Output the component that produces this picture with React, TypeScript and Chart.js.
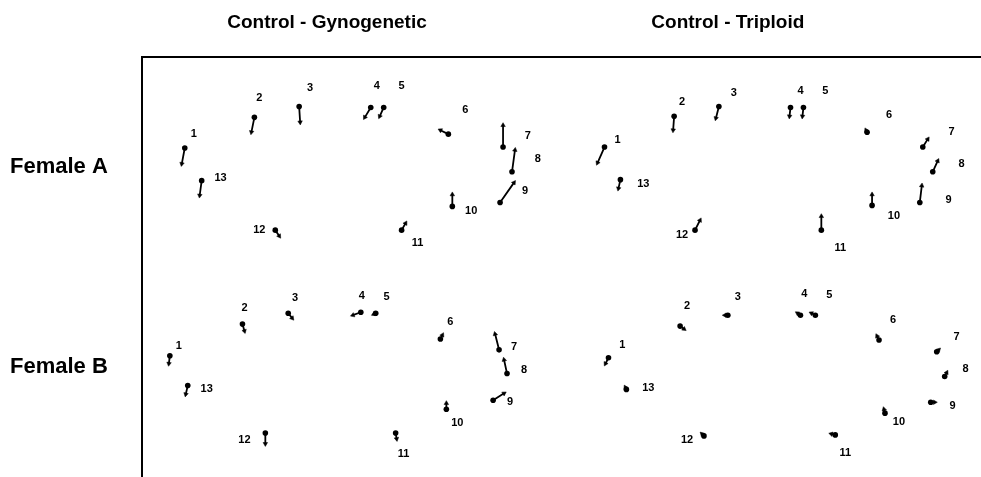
import React, { useEffect, useRef } from 'react';
import { Chart, registerables } from 'chart.js';

Chart.register(...registerables);

// ---------- data ----------
const landmarkLabels = ['1', '2', '3', '4', '5', '6', '7', '8', '9', '10', '11', '12', '13'];
const columnTitles = ['Control - Gynogenetic', 'Control - Triploid'];
const rowLabels = ['Female A', 'Female B'];

// Female A, Control - Gynogenetic (panel-local shape coordinates)
const femAGynStart: [number, number][] = [
  [43, 92], [113, 61], [158, 50], [230, 51], [243, 51], [308, 78], [363, 91],
  [372, 116], [360, 147], [312, 151], [261, 175], [134, 175], [60, 125],
];
const femAGynEnd: [number, number][] = [
  [40, 108], [110, 76], [159, 66], [224, 61], [239, 60], [300, 74], [363, 69],
  [375, 94], [374, 127], [312, 139], [265, 168], [138, 181], [58, 140],
];
const femAGynLabel: [number, number][] = [
  [52, 78], [118, 41], [169, 31], [236, 29], [261, 29], [325, 54], [388, 80],
  [398, 103], [385, 135], [331, 156], [277, 188], [118, 175], [79, 122],
];

// Female A, Control - Triploid
const femATriStart: [number, number][] = [
  [43, 91], [113, 60], [158, 50], [230, 51], [243, 51], [307, 76], [363, 91],
  [373, 116], [360, 147], [312, 150], [261, 175], [134, 175], [59, 124],
];
const femATriEnd: [number, number][] = [
  [36, 107], [112, 74], [155, 62], [229, 60], [242, 60], [306, 74], [368, 83],
  [378, 105], [362, 130], [312, 139], [261, 161], [139, 165], [57, 133],
];
const femATriLabel: [number, number][] = [
  [56, 84], [121, 45], [173, 36], [240, 34], [265, 34], [329, 59], [392, 76],
  [402, 108], [389, 145], [334, 161], [280, 193], [121, 180], [82, 128],
];

// Female B, Control - Gynogenetic
const femBGynStart: [number, number][] = [
  [28, 92], [101, 60], [147, 49], [220, 48], [235, 49], [300, 75], [359, 86],
  [367, 110], [353, 137], [306, 146], [255, 170], [124, 170], [46, 122],
];
const femBGynEnd: [number, number][] = [
  [27, 100], [103, 67], [151, 54], [212, 51], [233, 50], [302, 71], [355, 70],
  [364, 96], [364, 130], [306, 140], [256, 176], [124, 181], [44, 131],
];
const femBGynLabel: [number, number][] = [
  [37, 82], [103, 44], [154, 34], [221, 32], [246, 33], [310, 58], [374, 83],
  [384, 106], [370, 139], [317, 160], [263, 191], [103, 177], [65, 126],
];

// Female B, Control - Triploid
const femBTriStart: [number, number][] = [
  [47, 94], [119, 62], [167, 51], [240, 51], [255, 51], [319, 76], [377, 88],
  [385, 113], [371, 139], [325, 150], [275, 172], [143, 173], [65, 126],
];
const femBTriEnd: [number, number][] = [
  [44, 100], [123, 65], [164, 51], [237, 49], [251, 49], [317, 72], [379, 86],
  [387, 109], [375, 139], [324, 146], [271, 171], [141, 171], [64, 124],
];
const femBTriLabel: [number, number][] = [
  [61, 81], [126, 42], [177, 33], [244, 30], [269, 31], [333, 56], [397, 73],
  [406, 105], [393, 143], [339, 159], [285, 190], [126, 177], [87, 125],
];

const columnTitleX = [186, 589];
const rowLabelY = [111, 313];

const panels = [
  { col: 0, row: 0, start: femAGynStart, end: femAGynEnd, label: femAGynLabel },
  { col: 1, row: 0, start: femATriStart, end: femATriEnd, label: femATriLabel },
  { col: 0, row: 1, start: femBGynStart, end: femBGynEnd, label: femBGynLabel },
  { col: 1, row: 1, start: femBTriStart, end: femBTriEnd, label: femBTriLabel },
];
const COL_STEP = 422;
const ROW_STEP = 210;

const FONT = '"Liberation Sans", Arial, Helvetica, sans-serif';

export default function App() {
  const ref = useRef<HTMLCanvasElement | null>(null);

  useEffect(() => {
    if (!ref.current) return;
    const datasets: any[] = [];
    panels.forEach((p) => {
      const ox = p.col * COL_STEP;
      const oy = p.row * ROW_STEP;
      const segs: any[] = [];
      p.start.forEach((s, i) => {
        const e = p.end[i];
        segs.push({ x: s[0] + ox, y: s[1] + oy });
        segs.push({ x: e[0] + ox, y: e[1] + oy });
        segs.push({ x: NaN, y: NaN });
      });
      datasets.push({
        data: segs,
        showLine: true,
        spanGaps: false,
        borderColor: '#000',
        borderWidth: 1.8,
        pointRadius: 0,
        pointHoverRadius: 0,
      });
      datasets.push({
        data: p.start.map((s) => ({ x: s[0] + ox, y: s[1] + oy })),
        showLine: false,
        pointRadius: 2.8,
        pointBackgroundColor: '#000',
        pointBorderColor: '#000',
        pointBorderWidth: 0,
      });
      const starts = p.start.map((s) => ({ x: s[0] + ox, y: s[1] + oy }));
      datasets.push({
        data: p.end.map((e) => ({ x: e[0] + ox, y: e[1] + oy })),
        showLine: false,
        pointStyle: 'triangle',
        pointRadius: 2.6,
        pointBackgroundColor: '#000',
        pointBorderColor: '#000',
        pointBorderWidth: 0.5,
        pointRotation: (ctx: any) => {
          const chart = ctx.chart;
          const xs = chart.scales.x;
          const ys = chart.scales.y;
          const s = starts[ctx.dataIndex];
          const e = ctx.raw;
          if (!s || !e || !xs || !ys) return 0;
          const dx = xs.getPixelForValue(e.x) - xs.getPixelForValue(s.x);
          const dy = ys.getPixelForValue(e.y) - ys.getPixelForValue(s.y);
          return (Math.atan2(dx, -dy) * 180) / Math.PI;
        },
      });
    });

    const annotate = {
      id: 'annotate',
      afterDatasetsDraw(chart: any) {
        const c = chart.ctx;
        const xs = chart.scales.x;
        const ys = chart.scales.y;
        const area = chart.chartArea;
        c.save();
        // frame
        c.strokeStyle = '#000';
        c.lineWidth = 2;
        c.beginPath();
        c.moveTo(area.left, chart.height);
        c.lineTo(area.left, area.top);
        c.lineTo(chart.width, area.top);
        c.stroke();
        // landmark numbers
        c.fillStyle = '#000';
        c.font = 'bold 11px ' + FONT;
        c.textAlign = 'center';
        c.textBaseline = 'middle';
        panels.forEach((p) => {
          const ox = p.col * COL_STEP;
          const oy = p.row * ROW_STEP;
          p.label.forEach((l, i) => {
            c.fillText(landmarkLabels[i], xs.getPixelForValue(l[0] + ox), ys.getPixelForValue(l[1] + oy));
          });
        });
        // column titles
        c.font = 'bold 19px ' + FONT;
        columnTitles.forEach((t, i) => {
          c.fillText(t, xs.getPixelForValue(columnTitleX[i]), 23);
        });
        // row labels
        c.font = 'bold 22px ' + FONT;
        c.textAlign = 'left';
        rowLabels.forEach((t, i) => {
          c.fillText(t, 10, ys.getPixelForValue(rowLabelY[i]));
        });
        c.restore();
      },
    };

    const chart = new Chart(ref.current, {
      type: 'scatter',
      data: { datasets },
      options: {
        animation: false,
        responsive: false,
        devicePixelRatio: 1,
        layout: { padding: { left: 142, top: 57, right: 0, bottom: 0 } },
        plugins: { legend: { display: false }, tooltip: { enabled: false }, title: { display: false } },
        events: [],
        scales: {
          x: { type: 'linear', min: 0, max: 839, display: false },
          y: { type: 'linear', min: 0, max: 420, reverse: true, display: false },
        },
      },
      plugins: [annotate],
    });
    return () => chart.destroy();
  }, []);

  return (
    <div style={{ position: 'absolute', left: 0, top: 0, width: 981, height: 477, background: '#fff' }}>
      <canvas ref={ref} width={981} height={477} style={{ display: 'block' }} />
    </div>
  );
}
